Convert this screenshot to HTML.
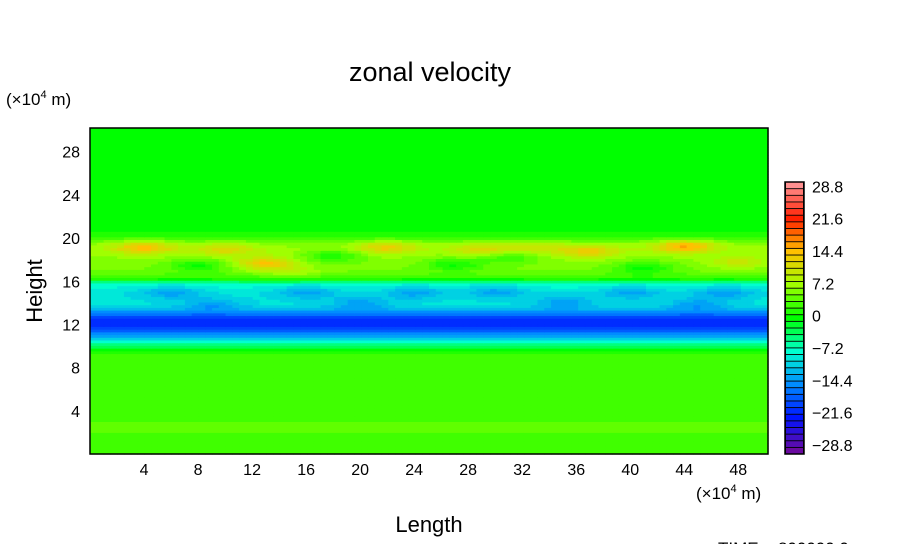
<!DOCTYPE html>
<html><head><meta charset="utf-8"><style>
body{margin:0;background:#fff;width:904px;height:544px;overflow:hidden}
svg{display:block;font-family:"Liberation Sans",sans-serif}
</style></head><body>
<svg id="chart" width="904" height="544">
<text x="430" y="81" font-size="27" text-anchor="middle">zonal velocity</text>
<text x="6" y="105" font-size="17">(×10<tspan dy="-7" font-size="11">4</tspan><tspan dy="7"> m)</tspan></text>
<text x="696" y="499" font-size="17">(×10<tspan dy="-7" font-size="11">4</tspan><tspan dy="7"> m)</tspan></text>
<text x="429" y="532" font-size="22" text-anchor="middle">Length</text>
<text transform="translate(42,291) rotate(-90)" font-size="22" text-anchor="middle">Height</text>
<text x="718" y="554" font-size="17">TIME = 800000.0</text>
<g id="plot"></g>
<g id="cbar"></g>
</svg>
<script>
const heights=[0,1,2.5,4,6,9,9.5,10,10.5,11,11.5,12,12.5,13,13.5,14,15,15.8,16.2,16.5,17,18,19,19.5,20.2,21,25,30];
const speeds=[3,3,4,3,3,3,1.5,-3,-8,-13,-17,-20,-20,-16,-11,-9,-9,-7,0.5,3,5,6,7,6,1.5,0,0,0];
const blobX=[4,10,13,22,29,33,37,44,48,6,16,24,30,40,47,9,20,35,45,8,18,27,41,15,31];
const blobY=[19.2,19.0,17.7,19.2,19.0,19.2,18.8,19.3,17.8,15.0,15.0,15.0,15.1,15.0,15.0,13.9,14.0,14.1,13.9,17.5,18.4,17.6,17.3,16.9,18.3];
const blobV=[8,5,8,6,5,4,6,9,4,-4,-4,-4,-4,-4,-4,-4,-4,-4,-4,-5,-5,-5,-5,3,-4];
const cbTicks=[28.8,21.6,14.4,7.2,0,-7.2,-14.4,-21.6,-28.8];
const xTicks=[4,8,12,16,20,24,28,32,36,40,44,48];
const yTicks=[4,8,12,16,20,24,28];
const NS="http://www.w3.org/2000/svg";
const X0=90,X1=768,Y0=454,Y1=128,XMAX=50.2,YMAX=30.2;
const sx=v=>X0+v/XMAX*(X1-X0), sy=v=>Y0-v/YMAX*(Y0-Y1);
const stops=[[-28.8,[106,10,160]],[-21.6,[0,20,255]],[-14.4,[0,140,255]],[-7.2,[0,255,208]],[0,[0,255,0]],[7.2,[160,255,0]],[14.4,[255,192,0]],[21.6,[255,32,0]],[28.8,[255,144,144]]];
function col(v){v=Math.round(v/1.44)*1.44;v=Math.max(-28.8,Math.min(28.8,v));
 for(let i=0;i<stops.length-1;i++){const a=stops[i],b=stops[i+1];if(v<=b[0]){const t=(v-a[0])/(b[0]-a[0]);return `rgb(${a[1].map((c,k)=>Math.round(c+(b[1][k]-c)*t)).join(',')})`;}}
 return 'rgb(255,144,144)';}
function prof(h){for(let i=0;i<heights.length-1;i++){if(h<=heights[i+1]){const t=(h-heights[i])/(heights[i+1]-heights[i]);return speeds[i]+(speeds[i+1]-speeds[i])*t;}}return speeds[speeds.length-1];}
function mk(tag,attrs,parent){const e=document.createElementNS(NS,tag);for(const k in attrs)e.setAttribute(k,attrs[k]);parent.appendChild(e);return e;}
const plot=document.getElementById('plot');
const nx=100,ny=120;
for(let j=0;j<ny;j++){const h0=j*YMAX/ny,h1=(j+1)*YMAX/ny,h=(h0+h1)/2;
 for(let i=0;i<nx;i++){const x0=i*XMAX/nx,x1=(i+1)*XMAX/nx,x=(x0+x1)/2;
  let v=prof(h);
  for(let b=0;b<blobX.length;b++){const dx=(x-blobX[b])/2.2,dy=(h-blobY[b])/0.6;v+=blobV[b]*Math.exp(-(dx*dx+dy*dy));}
  const r=mk('rect',{x:sx(x0),y:sy(h1),width:sx(x1)-sx(x0)+0.6,height:sy(h0)-sy(h1)+0.6,fill:col(v)},plot);
  
  
 }}
mk('rect',{x:X0,y:Y1,width:X1-X0,height:Y0-Y1,fill:'none',stroke:'#000','stroke-width':1.5},plot);
xTicks.forEach(t=>{const tx=mk('text',{x:sx(t),y:475,'font-size':16,'text-anchor':'middle'},plot);tx.textContent=t;
 });
yTicks.forEach(t=>{const tx=mk('text',{x:80,y:sy(t)+6,'font-size':16,'text-anchor':'end'},plot);tx.textContent=t;
 });
const cb=document.getElementById('cbar');
const CY0=454,CY1=182,n=41,bh=(CY0-CY1)/n;
mk('rect',{x:785,y:CY1,width:19,height:CY0-CY1,fill:'#000'},cb);
for(let k=0;k<n;k++){const v=-28.8+k*1.44;
 const r=mk('rect',{x:786,y:CY0-(k+1)*bh+0.5,width:17,height:bh-0.9,fill:col(v)},cb);
 }
mk('rect',{x:785,y:CY1,width:19,height:CY0-CY1,fill:'none',stroke:'#000','stroke-width':1.5},cb);
cbTicks.forEach(t=>{const yy=CY0-((t+28.8)/57.6)*(CY0-CY1-2*bh)-bh*1.2;
 const tx=mk('text',{x:812,y:yy+5,'font-size':16},cb);tx.textContent=(t<0?'−':'')+Math.abs(t);
 });
</script>
</body></html>
